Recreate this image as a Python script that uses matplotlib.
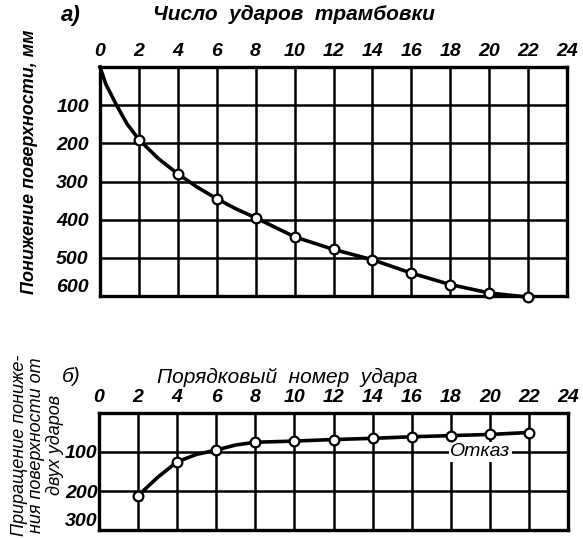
# Two plots from an old handbook: settlement of soil under a tamper

import matplotlib
matplotlib.use("Agg")
import matplotlib.pyplot as plt

W, H = 583, 538

# a) total settlement vs number of blows
blows_a = [2, 4, 6, 8, 10, 12, 14, 16, 18, 20, 22]
settle_a = [190, 280, 345, 395, 445, 478, 505, 540, 570, 592, 603]
# smooth curve
curve_ax = [0, 0.3, 0.85, 1.4, 2, 3, 4, 5, 6, 7, 8, 10, 12, 14, 16, 18, 20, 22]
curve_ay = [0, 45, 100, 150, 190, 240, 280, 315, 345, 372, 395, 445, 478, 505, 540, 570, 592, 603]

# b) increment of settlement per two blows
blows_b = [2, 4, 6, 8, 10, 12, 14, 16, 18, 20, 22]
incr_b = [212, 125, 95, 75, 72, 68, 65, 61, 58, 55, 50]
curve_bx = [2, 3, 4, 5, 6, 7, 8, 10, 12, 14, 16, 18, 20, 22]
curve_by = [212, 165, 125, 106, 95, 82, 75, 72, 68, 65, 61, 58, 55, 50]

x_ticks = list(range(0, 25, 2))
y_ticks_a = [100, 200, 300, 400, 500, 600]
y_ticks_b = [100, 200, 300]
ylabel_b = ["Приращение пониже-", "ния поверхности от", "двух ударов"]

FONT = ["Liberation Sans", "DejaVu Sans"]


def box(left, top, right, bottom):
    return [left / W, 1 - bottom / H, (right - left) / W, (bottom - top) / H]


def style_axes(ax, yt, ymax, ypad, size):
    ax.set_xlim(0, 24)
    ax.set_ylim(ymax, 0)
    ax.set_xticks(x_ticks)
    ax.set_yticks(yt)
    ax.xaxis.tick_top()
    ax.tick_params(length=0, pad=5, axis="x")
    ax.tick_params(length=0, pad=ypad, axis="y")
    for lab in ax.get_xticklabels() + ax.get_yticklabels():
        lab.set_fontfamily(FONT)
        lab.set_fontstyle("italic")
        lab.set_fontweight("bold")
        lab.set_fontsize(size)
    # last label sits just above the bottom border, as in the drawing
    ax.get_yticklabels()[-1].set_verticalalignment("bottom")
    ax.grid(True, color="black", lw=1.8)
    ax.set_axisbelow(True)
    for s in ax.spines.values():
        s.set_linewidth(2.4)


fig = plt.figure(figsize=(W / 100, H / 100), dpi=100)

# ---- plot a
ax1 = fig.add_axes(box(100, 67, 567, 296))
style_axes(ax1, y_ticks_a, 600, 8, 14)
ax1.plot(curve_ax, curve_ay, color="black", lw=2.6, zorder=3, clip_on=False)
ax1.plot(blows_a, settle_a, "o", ms=7, mfc="white", mec="black", mew=1.6,
         zorder=4, clip_on=False)

fig.text(61 / W, 1 - 15 / H, "а)", ha="left", va="center", family=FONT,
         style="italic", weight="bold", size=16)
fig.text(294 / W, 1 - 14 / H, "Число  ударов  трамбовки", ha="center",
         va="center", family=FONT, style="italic", weight="bold", size=15)
fig.text(30 / W, 1 - 162 / H, "Понижение поверхности, мм", rotation=90,
         ha="center", va="center", family=FONT, style="italic",
         weight="bold", size=13)

# ---- plot b
ax2 = fig.add_axes(box(99, 413, 568, 530))
style_axes(ax2, y_ticks_b, 300, 1, 14)
ax2.plot(curve_bx, curve_by, color="black", lw=2.6, zorder=3)
ax2.plot(blows_b, incr_b, "o", ms=7, mfc="white", mec="black", mew=1.6,
         zorder=4, clip_on=False)
ax2.text(19.5, 100, "Отказ", ha="center", va="center", family=FONT,
         style="italic", size=14, zorder=2,
         bbox=dict(facecolor="white", edgecolor="none", pad=1))

fig.text(62 / W, 1 - 377 / H, "б)", ha="left", va="center", family=FONT,
         style="italic", size=15)
fig.text(287 / W, 1 - 377 / H, "Порядковый  номер  удара", ha="center",
         va="center", family=FONT, style="italic", size=15)
for line, xp in zip(ylabel_b, [20, 37, 55]):
    fig.text(xp / W, 1 - 445 / H, line, rotation=90, ha="center",
             va="center", family=FONT, style="italic", size=13)

fig.savefig("out.png", dpi=100)
